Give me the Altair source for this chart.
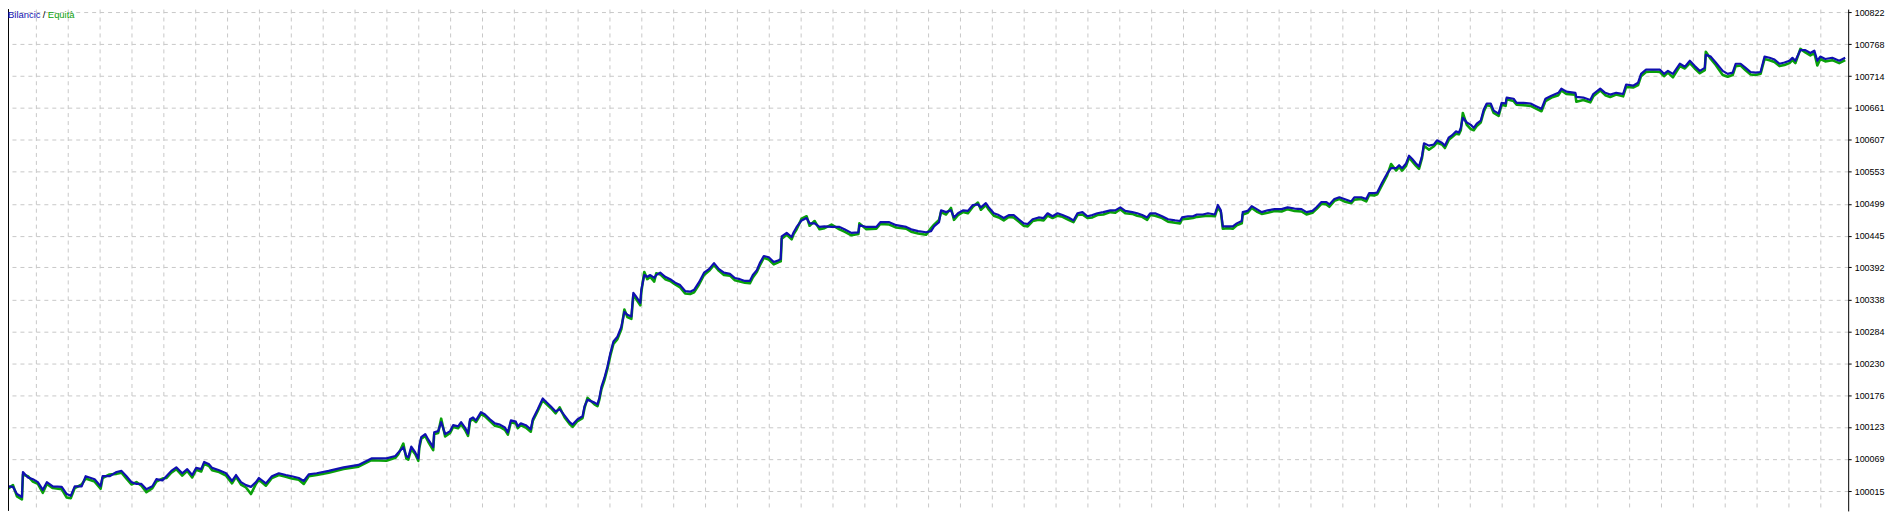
import altair as alt
import pandas as pd

# deal index (horizontal position of each balance point, arbitrary units)
deal = [
    4, 8, 13, 17, 22, 23, 28, 33, 38, 43, 47, 53, 62, 67, 71,
    75, 82, 86, 95, 101, 103, 110, 117, 122, 127,
    132, 137, 142, 147, 153, 157, 163, 167,
    172, 177, 183, 188, 193, 197, 202, 205, 210, 213,
    220, 227, 233, 237, 242, 247, 252, 257, 260, 267,
    273, 280, 287, 293, 300, 305, 310, 318, 330, 345, 360, 373,
    388, 397, 400, 405, 408, 410, 413, 417, 420, 421, 423,
    427, 430, 435, 436, 440, 443, 447, 452, 455, 460, 463, 467, 470,
    472, 475, 478, 483, 487, 492, 497, 502, 507, 510, 513, 518, 520, 523, 528, 533,
    535, 540, 545, 548, 553, 558, 562, 567, 572, 575, 580, 585, 587, 590, 597, 600, 602,
    604, 607, 610, 613, 616, 620, 624, 627, 630, 634, 636, 639, 643, 644,
    647, 650, 653, 657, 659, 663, 668, 673, 678, 683, 688, 693, 697,
    702, 707, 712, 717, 722, 727, 733, 738, 743, 748, 753, 756, 760,
    763, 767, 772, 777, 782, 784, 785, 790, 795, 797, 800,
    805, 810, 813, 818, 823, 828, 835, 843, 848, 855, 862,
    863, 870, 880, 884, 893, 900, 910, 915, 922, 930, 935, 938, 943,
    945, 950, 955, 958, 962, 967, 972, 977, 982, 985, 990, 993,
    998, 1003, 1008, 1013, 1018, 1023, 1028, 1032, 1037, 1043, 1048,
    1052, 1057, 1062, 1067, 1073, 1078, 1082, 1087, 1092, 1097, 1102,
    1108, 1115, 1120, 1125, 1130, 1137, 1142, 1147, 1152, 1155, 1160,
    1167, 1173, 1180, 1185, 1187, 1193, 1198, 1202, 1208, 1213, 1220, 1223, 1226,
    1228, 1233, 1238, 1242, 1247, 1248, 1253, 1257, 1262, 1267, 1273, 1280,
    1287, 1293, 1300, 1307, 1312, 1318, 1322, 1327, 1332, 1335, 1340, 1345,
    1350, 1357, 1360, 1367, 1372, 1375, 1380, 1383, 1388, 1393, 1397, 1402, 1405,
    1408, 1412, 1415, 1418, 1422, 1425, 1428, 1430, 1435, 1440, 1443, 1448, 1451,
    1455, 1458, 1462, 1465, 1467, 1469, 1473, 1477, 1480, 1483, 1487, 1490, 1493, 1497,
    1500, 1505, 1508, 1512, 1513, 1520, 1523, 1530, 1537, 1543, 1548,
    1552, 1558, 1565, 1568, 1573, 1582, 1583, 1590, 1597,
    1600, 1607, 1612, 1617, 1623, 1630, 1633, 1640, 1645, 1648,
    1653, 1660, 1667, 1671, 1675, 1680, 1687, 1692, 1697, 1702, 1707, 1712,
    1713, 1718, 1723, 1730, 1735, 1740, 1743, 1748, 1753, 1758, 1763, 1768,
    1772, 1777, 1782, 1787, 1792, 1797, 1800, 1803, 1808, 1813, 1818, 1822, 1825, 1828, 1833, 1840, 1847, 1853,
]

balance = [
    100007, 100023, 100022, 100010, 100005, 100047, 100038, 100035, 100030, 100017, 100030, 100023, 100022, 100010, 100007,
    100023, 100023, 100040, 100035, 100023, 100040, 100040, 100047, 100049, 100040,
    100030, 100027, 100027, 100018, 100023, 100035, 100033, 100040,
    100049, 100055, 100045, 100052, 100042, 100054, 100052, 100064, 100060, 100054,
    100050, 100045, 100032, 100042, 100030, 100025, 100022, 100030, 100037, 100028,
    100040, 100045, 100042, 100040, 100037, 100032, 100043, 100045, 100049, 100055, 100059, 100070,
    100070, 100074, 100080, 100089, 100074, 100072, 100090, 100080, 100070, 100090, 100106,
    100111, 100102, 100089, 100114, 100116, 100131, 100111, 100116, 100126, 100124, 100131, 100122, 100112,
    100136, 100139, 100134, 100148, 100144, 100136, 100129, 100127, 100122, 100114, 100134, 100132, 100124, 100129, 100126, 100119,
    100136, 100153, 100171, 100166, 100158, 100149, 100153, 100142, 100131, 100127, 100136, 100141, 100158, 100169, 100164, 100161, 100173,
    100191, 100206, 100225, 100248, 100267, 100275, 100292, 100317, 100312, 100309, 100349, 100342, 100332, 100354,
    100379, 100376, 100379, 100374, 100379, 100383, 100376, 100372, 100366, 100362, 100352, 100351, 100354,
    100367, 100383, 100389, 100399, 100389, 100383, 100381, 100374, 100372, 100369, 100369, 100379, 100387,
    100399, 100411, 100409, 100401, 100404, 100406, 100444, 100450, 100443, 100451, 100460,
    100471, 100475, 100466, 100466, 100460, 100461, 100460, 100460, 100456, 100450, 100451,
    100463, 100460, 100460, 100468, 100468, 100463, 100460, 100456, 100453, 100451, 100453, 100461, 100468,
    100488, 100485, 100488, 100476, 100483, 100488, 100487, 100497, 100498, 100493, 100500, 100493,
    100483, 100480, 100475, 100480, 100480, 100473, 100466, 100465, 100473, 100476, 100475,
    100483, 100478, 100483, 100480, 100476, 100471, 100483, 100485, 100478, 100480, 100483,
    100485, 100488, 100488, 100493, 100487, 100485, 100483, 100480, 100476, 100483, 100483,
    100478, 100473, 100471, 100470, 100476, 100478, 100478, 100481, 100481, 100483, 100481, 100497, 100488,
    100461, 100461, 100461, 100466, 100470, 100485, 100487, 100495, 100490, 100485, 100488, 100490,
    100490, 100493, 100491, 100490, 100485, 100487, 100493, 100502, 100502, 100498, 100507, 100510,
    100507, 100503, 100510, 100510, 100507, 100517, 100517, 100518, 100535, 100550, 100559, 100559, 100564,
    100559, 100567, 100580, 100575, 100567, 100562, 100579, 100601, 100597, 100599, 100606, 100602, 100597,
    100611, 100614, 100621, 100619, 100627, 100644, 100636, 100632, 100627, 100634, 100639, 100658, 100668, 100668,
    100656, 100651, 100669, 100668, 100678, 100676, 100669, 100669, 100668, 100663, 100659,
    100676, 100681, 100686, 100693, 100688, 100686, 100679, 100678, 100674,
    100684, 100693, 100686, 100683, 100686, 100684, 100700, 100698, 100703, 100718,
    100725, 100725, 100725, 100718, 100723, 100718, 100735, 100730, 100740, 100731, 100723, 100728,
    100750, 100747, 100737, 100723, 100718, 100720, 100735, 100735, 100728, 100721, 100720, 100721,
    100747, 100745, 100742, 100735, 100737, 100740, 100745, 100740, 100758, 100758, 100753, 100757, 100740, 100747, 100743, 100745, 100740, 100745,
]

equity = [
    100002, 100019, 100025, 100006, 100001, 100043, 100040, 100031, 100027, 100012, 100027, 100020, 100018, 100004, 100003,
    100020, 100026, 100036, 100031, 100019, 100037, 100043, 100044, 100046, 100036,
    100026, 100030, 100024, 100013, 100020, 100031, 100036, 100037,
    100046, 100052, 100041, 100049, 100038, 100051, 100048, 100061, 100057, 100050,
    100047, 100041, 100028, 100039, 100026, 100021, 100010, 100027, 100034, 100024,
    100037, 100042, 100039, 100036, 100034, 100027, 100040, 100042, 100046, 100052, 100056, 100067,
    100066, 100071, 100077, 100095, 100070, 100068, 100086, 100077, 100066, 100087, 100103,
    100108, 100098, 100084, 100111, 100113, 100137, 100107, 100113, 100123, 100121, 100128, 100118, 100108,
    100133, 100136, 100131, 100145, 100141, 100133, 100125, 100123, 100118, 100110, 100131, 100129, 100121, 100126, 100122, 100115,
    100133, 100150, 100168, 100163, 100155, 100146, 100156, 100139, 100128, 100123, 100133, 100138, 100155, 100172, 100161, 100158, 100170,
    100187, 100202, 100221, 100244, 100263, 100271, 100288, 100321, 100308, 100305, 100345, 100338, 100328, 100350,
    100384, 100372, 100376, 100368, 100382, 100380, 100372, 100369, 100363, 100358, 100348, 100347, 100350,
    100363, 100379, 100386, 100396, 100386, 100379, 100378, 100370, 100368, 100366, 100365, 100375, 100384,
    100395, 100408, 100405, 100397, 100401, 100402, 100440, 100447, 100439, 100448, 100456,
    100474, 100478, 100462, 100470, 100456, 100458, 100464, 100456, 100452, 100446, 100448,
    100466, 100456, 100457, 100465, 100464, 100459, 100457, 100452, 100449, 100447, 100458, 100464, 100472,
    100485, 100481, 100492, 100472, 100480, 100485, 100483, 100494, 100501, 100489, 100497, 100489,
    100479, 100476, 100471, 100477, 100476, 100469, 100462, 100461, 100470, 100472, 100471,
    100479, 100475, 100479, 100477, 100472, 100468, 100480, 100481, 100475, 100476, 100480,
    100481, 100485, 100484, 100490, 100483, 100482, 100479, 100477, 100472, 100480, 100479,
    100475, 100469, 100467, 100466, 100473, 100474, 100475, 100477, 100478, 100479, 100478, 100493, 100485,
    100457, 100458, 100457, 100463, 100466, 100481, 100484, 100492, 100486, 100482, 100484, 100487,
    100486, 100490, 100487, 100486, 100481, 100484, 100490, 100499, 100498, 100494, 100504, 100507,
    100503, 100500, 100506, 100507, 100503, 100514, 100513, 100515, 100531, 100547, 100566, 100555, 100561,
    100555, 100563, 100577, 100571, 100563, 100558, 100576, 100597, 100590, 100596, 100602, 100599, 100593,
    100607, 100611, 100617, 100616, 100623, 100652, 100632, 100625, 100623, 100630, 100636, 100654, 100665, 100664,
    100652, 100647, 100666, 100664, 100675, 100672, 100666, 100665, 100664, 100659, 100655,
    100672, 100678, 100682, 100690, 100684, 100683, 100671, 100674, 100670,
    100680, 100690, 100682, 100679, 100683, 100680, 100696, 100695, 100699, 100714,
    100721, 100722, 100721, 100714, 100720, 100712, 100731, 100727, 100736, 100727, 100719, 100724,
    100755, 100743, 100733, 100716, 100713, 100716, 100731, 100732, 100724, 100717, 100716, 100718,
    100743, 100741, 100738, 100731, 100733, 100736, 100741, 100736, 100760, 100754, 100749, 100753, 100732, 100743, 100739, 100741, 100736, 100741,
]

y_ticks = [100015, 100069, 100123, 100176, 100230, 100284, 100338, 100392,
           100445, 100499, 100553, 100607, 100661, 100714, 100768, 100822]

legend_labels = ["Bilancic", "/", "Equità"]

n = min(len(deal), len(balance), len(equity))
df = pd.DataFrame({"deal": deal[:n], "bal": balance[:n], "eq": equity[:n]})

W, H = 1848, 504
BLUE = "#1010b0"
GREEN = "#0aa00a"
GRID = "#c8c8c8"

x_scale = alt.Scale(domain=[8, 1856], nice=False, zero=False)
y_scale = alt.Scale(domain=[99981.5, 100827.1], nice=False, zero=False)
x_grid = list(range(36, 1856, 32))


def x_axis():
    return alt.Axis(values=x_grid, labels=False, ticks=False, domain=False, title=None,
                    grid=True, gridColor=GRID, gridDash=[4, 4], gridWidth=1)


def y_axis():
    return alt.Axis(orient="right", values=y_ticks, format="d", title=None,
                    grid=True, gridColor=GRID, gridDash=[4, 4], gridWidth=1,
                    domain=True, domainColor="black", domainWidth=1,
                    ticks=True, tickColor="black", tickSize=3, tickWidth=1,
                    labelPadding=3, labelFontSize=9, labelFont="Liberation Sans",
                    labelColor="black", labelOverlap=False)


base = alt.Chart(df)

eq_line = base.mark_line(color=GREEN, strokeWidth=2.6, clip=True, strokeJoin="round").encode(
    x=alt.X("deal:Q", scale=x_scale, axis=x_axis()),
    y=alt.Y("eq:Q", scale=y_scale, axis=y_axis()),
)

bal_line = base.mark_line(color=BLUE, strokeWidth=2.2, clip=True, strokeJoin="round").encode(
    x=alt.X("deal:Q", scale=x_scale, axis=x_axis()),
    y=alt.Y("bal:Q", scale=y_scale, axis=y_axis()),
)

border = alt.Chart(pd.DataFrame({"k": [0]})).mark_rule(color="black", strokeWidth=1).encode(
    x=alt.value(0.5), y=alt.value(0), y2=alt.value(H)
)


def label(text, xpos, color):
    return alt.Chart(pd.DataFrame({"t": [text]})).mark_text(
        align="left", baseline="alphabetic", fontSize=9.5, font="Liberation Sans", color=color
    ).encode(x=alt.value(xpos), y=alt.value(9), text="t:N")


t1 = label(legend_labels[0], 0, BLUE)
t2 = label(legend_labels[1], 35, "black")
t3 = label(legend_labels[2], 40, GREEN)

chart = alt.layer(eq_line, bal_line, border, t1, t2, t3).properties(
    width=W, height=H,
    autosize=alt.AutoSizeParams(type="none"),
    padding={"left": 0, "top": 0, "right": 44, "bottom": 0},
).configure_view(stroke=None)

chart.save("out.html", embed_options={"renderer": "svg", "actions": False})
